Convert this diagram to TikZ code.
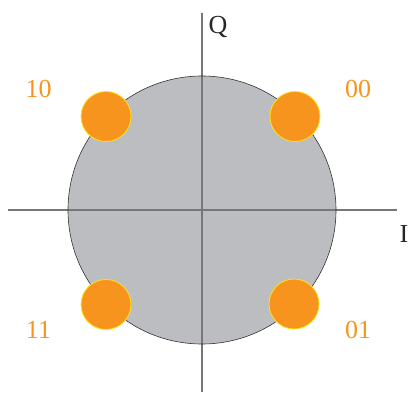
\documentclass[tikz,border=0pt]{standalone}
\usepackage{fontspec}
\setmainfont{Liberation Serif}
\usepackage{xcolor}
\definecolor{disk}{HTML}{BCBDC0}
\definecolor{dot}{HTML}{F7941D}
\definecolor{dotedge}{HTML}{FFE21A}
\definecolor{axis}{HTML}{777777}
\begin{document}
\begin{tikzpicture}[x=1pt,y=-1pt,
  sym/.style={circle,fill=dot,draw=dotedge,line width=0.8pt,minimum size=50pt,inner sep=0pt},
  lab/.style={text=dot,font=\fontsize{26}{26}\selectfont,inner sep=0pt},
  axlab/.style={text=black!85,font=\fontsize{26}{26}\selectfont,inner sep=0pt}]
\useasboundingbox (0,0) rectangle (410,396);
\coordinate (o) at (202,210);
\fill[disk] (o) circle[radius=134];
\coordinate (xl) at (8,210);
\coordinate (xr) at (397,210);
\coordinate (yt) at (202,13);
\coordinate (yb) at (202,392);
\draw[axis,line width=1.3pt] (xl) -- (xr);
\draw[axis,line width=1.3pt] (yt) -- (yb);
\draw[black!80,line width=0.6pt] (o) circle[radius=134];
\node[sym] (s10) at (106,116.5) {};
\node[sym] (s00) at (295,116.5) {};
\node[sym] (s11) at (106,304.5) {};
\node[sym] (s01) at (294,304) {};
\node[lab] (l10) at (38.5,89) {10};
\node[lab] (l00) at (358,89) {00};
\node[lab] (l11) at (38.5,330) {11};
\node[lab] (l01) at (358,330) {01};
\node[axlab] (q) at (218,27) {Q};
\node[axlab] (i) at (404,234) {I};
\end{tikzpicture}
\end{document}
